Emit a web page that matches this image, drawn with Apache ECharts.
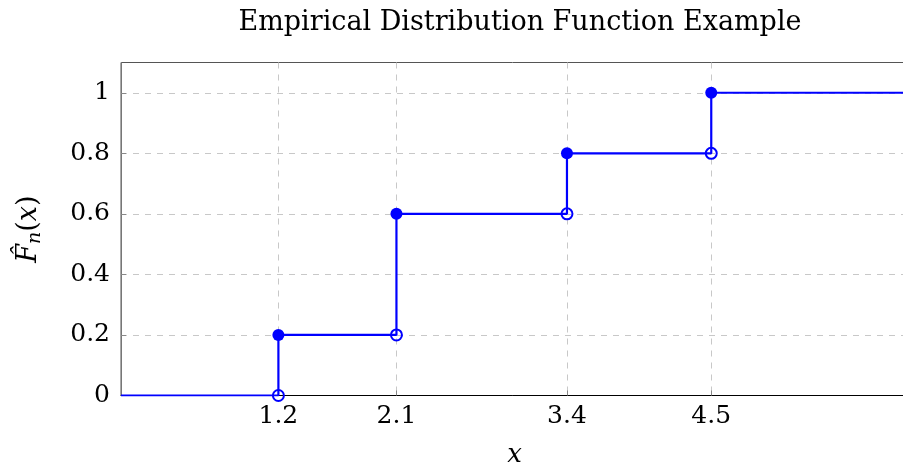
<!DOCTYPE html>
<html><head><meta charset="utf-8">
<script src="https://cdn.jsdelivr.net/npm/echarts@6/dist/echarts.min.js"></script>
<style>html,body{margin:0;padding:0;background:#fff}#c{width:903px;height:468px}</style>
</head><body><div id="c"></div>
<script>
const sampleX = [1.2, 2.1, 3.4, 4.5];
const ecdfValues = [0.2, 0.6, 0.8, 1.0];
const leftLimits = [0, 0.2, 0.6, 0.8];
const xRange = [0, 6];
const yRange = [0, 1.1];
const xTicks = [1.2, 2.1, 3.4, 4.5];
const yTicks = [0, 0.2, 0.4, 0.6, 0.8, 1];

const FONT = 'DejaVu Serif';
const BLUE = '#0000ff';

const stepData = [[xRange[0], 0]]
  .concat(sampleX.map((x, i) => [x, ecdfValues[i]]))
  .concat([[xRange[1], ecdfValues[ecdfValues.length - 1]]]);
const filledPts = sampleX.map((x, i) => [x, ecdfValues[i]]);
const openPts = sampleX.map((x, i) => [x, leftLimits[i]]);

const chart = echarts.init(document.getElementById('c'), null, {renderer: 'canvas'});
chart.setOption({
  animation: false,
  backgroundColor: '#fff',
  title: {
    text: 'Empirical Distribution Function Example',
    left: 515, top: 4, textAlign: 'center',
    textStyle: {fontFamily: FONT, fontWeight: 'normal', fontSize: 27, color: '#000'}
  },
  grid: {left: 121, top: 62.5, width: 787, height: 333, show: true,
         outerBoundsMode: 'none', containLabel: false,
         borderColor: '#555', borderWidth: 1, backgroundColor: 'transparent'},
  xAxis: {
    type: 'value', min: xRange[0], max: xRange[1],
    name: 'x', nameLocation: 'middle', nameGap: 47,
    nameTextStyle: {fontFamily: FONT, fontStyle: 'italic', fontSize: 26, color: '#000'},
    axisLine: {show: true, lineStyle: {color: '#000', width: 1}},
    axisTick: {show: true, inside: true, length: 5, customValues: xTicks, lineStyle: {color: '#888'}},
    axisLabel: {customValues: xTicks, fontFamily: FONT, fontSize: 25, color: '#000', margin: 8,
                formatter: v => String(v)},
    splitLine: {show: true, lineStyle: {color: '#c8c8c8', type: [6, 6], width: 1}}
  },
  yAxis: {
    type: 'value', min: yRange[0], max: yRange[1],
    name: '{f|F\u0302}{s|n}{p|(}{f|x}{p|)}', nameLocation: 'middle', nameGap: 76,
    nameTextStyle: {
      fontFamily: FONT, fontSize: 27, color: '#000',
      rich: {
        f: {fontFamily: FONT, fontStyle: 'italic', fontSize: 27, color: '#000'},
        s: {fontFamily: FONT, fontStyle: 'italic', fontSize: 19, color: '#000', padding: [13, 0, 0, 0]},
        p: {fontFamily: FONT, fontSize: 27, color: '#000'}
      }
    },
    axisLine: {show: true, lineStyle: {color: '#777', width: 1}},
    axisTick: {show: true, inside: true, length: 5, customValues: yTicks, lineStyle: {color: '#888'}},
    axisLabel: {customValues: yTicks, fontFamily: FONT, fontSize: 25, color: '#000', margin: 11,
                formatter: v => String(+v.toFixed(1))},
    splitLine: {show: true, lineStyle: {color: '#c8c8c8', type: [6, 6], width: 1}}
  },
  series: [
    {
      type: 'line', data: stepData, step: 'end', showSymbol: false, symbol: 'none',
      lineStyle: {color: BLUE, width: 2.2}, clip: true, z: 3
    },
    {
      type: 'scatter', data: filledPts, symbol: 'circle', symbolSize: 12,
      itemStyle: {color: BLUE, opacity: 1}, z: 4
    },
    {
      type: 'scatter', data: openPts, symbol: 'circle', symbolSize: 11, clip: true,
      itemStyle: {color: 'rgba(0,0,0,0)', borderColor: BLUE, borderWidth: 2, opacity: 1}, z: 4
    }
  ]
});
</script>
</body></html>
